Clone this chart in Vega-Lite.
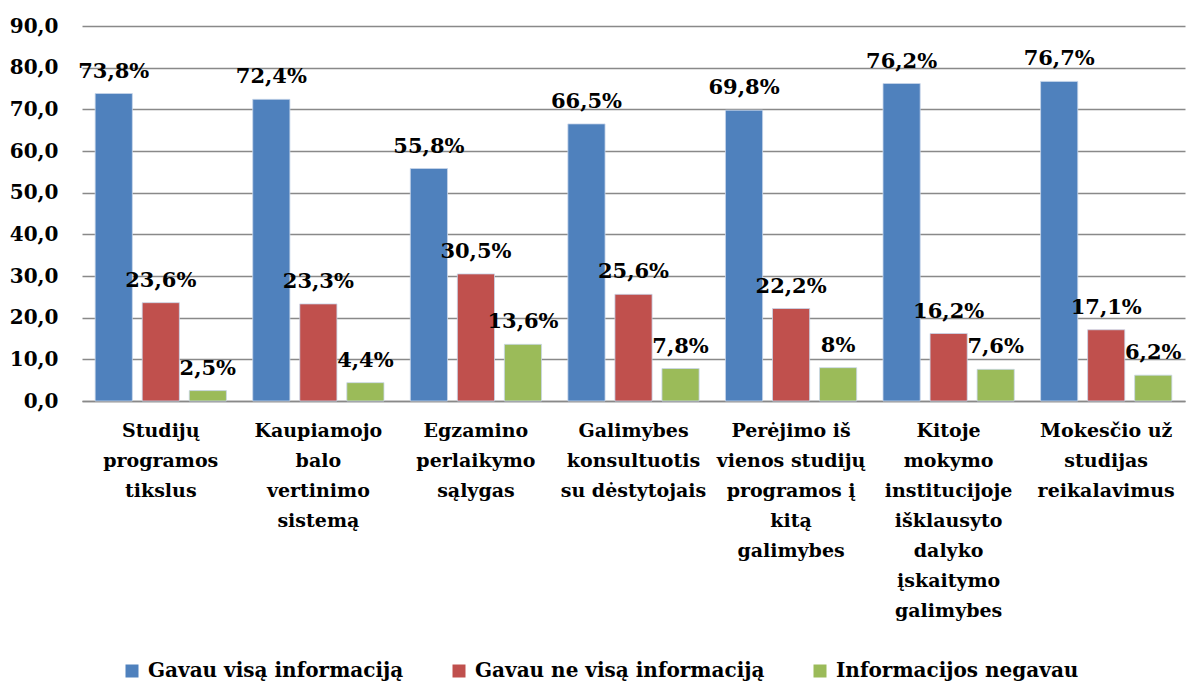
{
  "$schema": "https://vega.github.io/schema/vega-lite/v6.json",
  "width": 1103,
  "height": 375,
  "autosize": {"type": "none"},
  "padding": {"left": 82, "top": 26, "right": 6, "bottom": 283},
  "background": "white",
  "config": {"view": {"stroke": null}, "font": "DejaVu Serif"},
  "data": {
    "values": [
      {"category": "Studijų|programos|tikslus", "series": "Gavau visą informaciją", "value": 73.8},
      {"category": "Studijų|programos|tikslus", "series": "Gavau ne visą informaciją", "value": 23.6},
      {"category": "Studijų|programos|tikslus", "series": "Informacijos negavau", "value": 2.5},
      {"category": "Kaupiamojo|balo|vertinimo|sistemą", "series": "Gavau visą informaciją", "value": 72.4},
      {"category": "Kaupiamojo|balo|vertinimo|sistemą", "series": "Gavau ne visą informaciją", "value": 23.3},
      {"category": "Kaupiamojo|balo|vertinimo|sistemą", "series": "Informacijos negavau", "value": 4.4},
      {"category": "Egzamino|perlaikymo|sąlygas", "series": "Gavau visą informaciją", "value": 55.8},
      {"category": "Egzamino|perlaikymo|sąlygas", "series": "Gavau ne visą informaciją", "value": 30.5},
      {"category": "Egzamino|perlaikymo|sąlygas", "series": "Informacijos negavau", "value": 13.6},
      {"category": "Galimybes|konsultuotis|su dėstytojais", "series": "Gavau visą informaciją", "value": 66.5},
      {"category": "Galimybes|konsultuotis|su dėstytojais", "series": "Gavau ne visą informaciją", "value": 25.6},
      {"category": "Galimybes|konsultuotis|su dėstytojais", "series": "Informacijos negavau", "value": 7.8},
      {"category": "Perėjimo iš|vienos studijų|programos į|kitą|galimybes", "series": "Gavau visą informaciją", "value": 69.8},
      {"category": "Perėjimo iš|vienos studijų|programos į|kitą|galimybes", "series": "Gavau ne visą informaciją", "value": 22.2},
      {"category": "Perėjimo iš|vienos studijų|programos į|kitą|galimybes", "series": "Informacijos negavau", "value": 8},
      {"category": "Kitoje|mokymo|institucijoje|išklausyto|dalyko|įskaitymo|galimybes", "series": "Gavau visą informaciją", "value": 76.2},
      {"category": "Kitoje|mokymo|institucijoje|išklausyto|dalyko|įskaitymo|galimybes", "series": "Gavau ne visą informaciją", "value": 16.2},
      {"category": "Kitoje|mokymo|institucijoje|išklausyto|dalyko|įskaitymo|galimybes", "series": "Informacijos negavau", "value": 7.6},
      {"category": "Mokesčio už|studijas|reikalavimus", "series": "Gavau visą informaciją", "value": 76.7},
      {"category": "Mokesčio už|studijas|reikalavimus", "series": "Gavau ne visą informaciją", "value": 17.1},
      {"category": "Mokesčio už|studijas|reikalavimus", "series": "Informacijos negavau", "value": 6.2}
    ]
  },
  "transform": [
    {"calculate": "replace(format(datum.value, '.1~f'), '.', ',') + '%'", "as": "label"}
  ],
  "encoding": {
    "x": {
      "field": "category",
      "type": "nominal",
      "sort": null,
      "scale": {"paddingInner": 0, "paddingOuter": 0},
      "axis": {
        "title": null,
        "labelAngle": 0,
        "labelExpr": "split(datum.label, '|')",
        "labelFont": "DejaVu Serif",
        "labelFontSize": 19,
        "labelFontWeight": "bold",
        "labelColor": "black",
        "labelLineHeight": 30,
        "labelPadding": 20,
        "labelLimit": 0,
        "labelBaseline": "top",
        "ticks": false,
        "domain": true,
        "domainColor": "#898989",
        "domainWidth": 1.5,
        "grid": false
      }
    },
    "xOffset": {
      "field": "series",
      "sort": null,
      "scale": {"paddingInner": 0.21, "paddingOuter": 0.28}
    },
    "y": {
      "field": "value",
      "type": "quantitative",
      "scale": {"domain": [0, 90], "nice": false},
      "axis": {
        "title": null,
        "values": [0, 10, 20, 30, 40, 50, 60, 70, 80, 90],
        "labelExpr": "replace(format(datum.value, '.1f'), '.', ',')",
        "labelFont": "DejaVu Serif",
        "labelFontSize": 20,
        "labelFontWeight": "bold",
        "labelColor": "black",
        "labelPadding": 24,
        "ticks": false,
        "domain": false,
        "grid": true,
        "gridColor": "#898989",
        "gridWidth": 1.5
      }
    }
  },
  "layer": [
    {
      "mark": {"type": "bar", "stroke": "#c8d6ea", "strokeWidth": 0.8},
      "encoding": {
        "color": {
          "field": "series",
          "type": "nominal",
          "sort": null,
          "scale": {
            "domain": ["Gavau visą informaciją", "Gavau ne visą informaciją", "Informacijos negavau"],
            "range": ["#4F81BD", "#C0504D", "#9BBB59"]
          },
          "legend": {
            "title": null,
            "orient": "none",
            "direction": "horizontal",
            "legendX": 40,
            "legendY": 635,
            "symbolType": "square",
            "symbolSize": 169,
            "symbolStrokeWidth": 0,
            "symbolOpacity": 1,
            "labelFont": "DejaVu Serif",
            "labelFontSize": 20,
            "labelFontWeight": "bold",
            "labelColor": "black",
            "labelOffset": 6,
            "labelLimit": 0,
            "columnPadding": 45
          }
        }
      }
    },
    {
      "mark": {
        "type": "text",
        "baseline": "alphabetic",
        "align": "center",
        "dy": -16,
        "font": "DejaVu Serif",
        "fontSize": 21,
        "fontWeight": "bold",
        "color": "black"
      },
      "encoding": {
        "text": {"field": "label", "type": "nominal"}
      }
    }
  ]
}
